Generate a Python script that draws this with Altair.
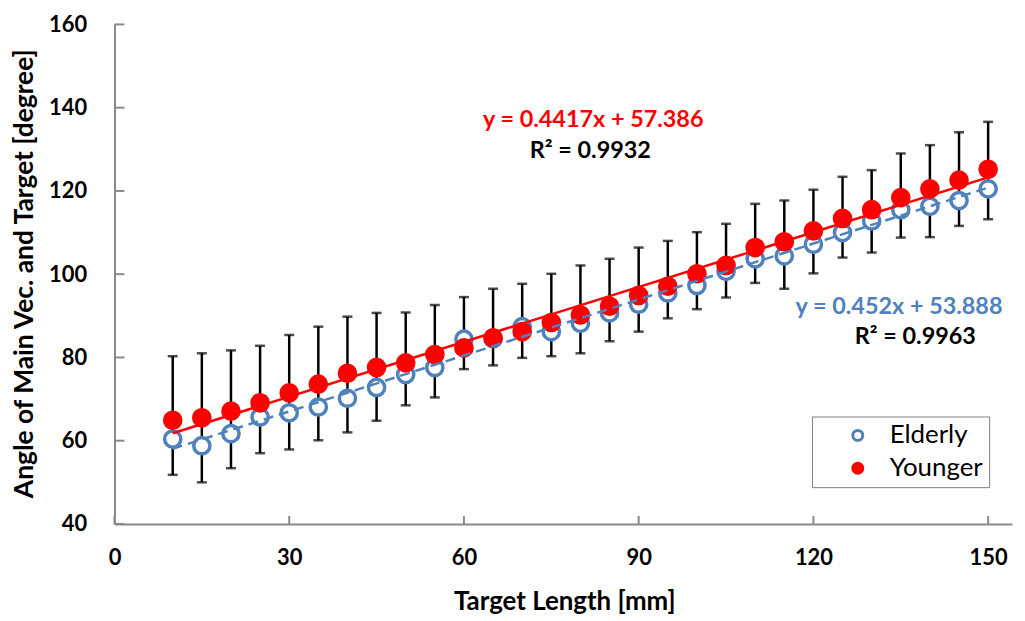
import altair as alt
import pandas as pd

# ---- data ----
target = [10, 15, 20, 25, 30, 35, 40, 45, 50, 55, 60, 65, 70, 75, 80, 85, 90, 95,
          100, 105, 110, 115, 120, 125, 130, 135, 140, 145, 150]
younger = [64.9, 65.5, 67.1, 69.1, 71.5, 73.6, 76.2, 77.6, 78.7, 80.7, 82.3, 84.7, 86.2,
           88.4, 90.2, 92.3, 94.9, 97.1, 100.1, 102.1, 106.4, 107.8, 110.4, 113.4, 115.5,
           118.4, 120.5, 122.6, 125.2]
elderly = [60.4, 58.8, 61.7, 65.7, 66.7, 68.1, 70.2, 72.8, 75.9, 77.6, 84.4, 84.5, 87.4,
           86.2, 88.2, 90.7, 92.8, 95.5, 97.3, 100.7, 103.7, 104.4, 107.2, 110.0, 112.8,
           115.5, 116.3, 117.7, 120.5]
younger_upper = [80.3, 81.0, 81.7, 82.8, 85.4, 87.4, 89.8, 90.7, 90.8, 92.6, 94.5, 96.5,
                 97.7, 100.1, 102.1, 103.7, 106.4, 108.0, 110.1, 112.1, 116.9, 117.7, 120.3,
                 123.4, 125.0, 129.0, 131.0, 134.1, 136.6]
elderly_lower = [51.8, 50.0, 53.4, 57.0, 57.9, 60.1, 62.0, 64.8, 68.5, 70.4, 77.2, 78.1,
                 79.9, 80.3, 81.0, 83.9, 86.2, 89.4, 91.6, 94.4, 97.9, 96.5, 100.2, 104.0,
                 105.2, 108.8, 108.9, 111.6, 113.2]
groups = ["Elderly", "Younger"]
x_ticks = [0, 30, 60, 90, 120, 150]
y_ticks = [40, 60, 80, 100, 120, 140, 160]

ann_labels = ["y = 0.4417x + 57.386", "R\u00b2 = 0.9932", "y = 0.452x + 53.888", "R\u00b2 = 0.9963"]
ann_x = [82.2, 81.7, 134.7, 137.5]
ann_y = [137.1, 129.6, 92.1, 84.9]
ann_color = ["#FF0000", "#000000", "#4F81BD", "#000000"]

BLUE = "#4F81BD"
RED = "#FF0000"
AX = "#898989"
FONT = "Lato"

n = len(target)
wide = pd.DataFrame({"x": target, "young": younger, "eld": elderly,
                     "yu": younger_upper, "el": elderly_lower})
long = pd.DataFrame({"x": target * 2,
                     "group": ["Elderly"] * n + ["Younger"] * n,
                     "value": elderly + younger})
ann = pd.DataFrame({"x": ann_x, "y": ann_y, "label": ann_labels, "color": ann_color})
xt = pd.DataFrame({"t": x_ticks})
yt = pd.DataFrame({"t": y_ticks})

W, H = 902, 502
xs = alt.Scale(domain=[0, 154.1], nice=False, zero=False)
ys = alt.Scale(domain=[40, 160], nice=False, zero=False)

main_x = alt.Axis(values=x_ticks, title="Target Length [mm]", tickSize=0, grid=False,
                  labelFont=FONT, labelFontWeight="bold", labelFontSize=22, labelColor="black",
                  labelPadding=24, labelFlush=False, domainColor=AX, domainWidth=2,
                  titleFont=FONT, titleFontWeight="bold", titleFontSize=26, titleColor="black",
                  titleX=452, titleY=78, titleBaseline="middle", titleAlign="center")
main_y = alt.Axis(values=y_ticks, title="Angle of Main Vec. and Target  [degree]", tickSize=0,
                  grid=False, labelFont=FONT, labelFontWeight="bold", labelFontSize=22,
                  labelColor="black", labelPadding=28, labelFlush=False,
                  domainColor=AX, domainWidth=2,
                  titleFont=FONT, titleFontWeight="bold", titleFontSize=26.5, titleColor="black",
                  titleX=-90, titleY=250, titleAngle=-90, titleBaseline="middle",
                  titleAlign="center")

# inward-pointing tick marks of the axes
xtick_marks = alt.Chart(xt).mark_rule(color=AX, strokeWidth=2).encode(
    x=alt.X("t:Q", scale=xs, axis=None),
    y=alt.value(H), y2=alt.value(H - 8),
)
ytick_marks = alt.Chart(yt).mark_rule(color=AX, strokeWidth=2).encode(
    y=alt.Y("t:Q", scale=ys, axis=None),
    x=alt.value(0), x2=alt.value(10),
)

bars = alt.Chart(wide).mark_rule(color="black", strokeWidth=2.5).encode(
    x=alt.X("x:Q", scale=xs, axis=main_x),
    y=alt.Y("el:Q", scale=ys, axis=main_y),
    y2="yu:Q",
)
caps_top = alt.Chart(wide).mark_tick(orient="horizontal", color="black", size=10,
                                     thickness=2.5).encode(
    x=alt.X("x:Q", scale=xs, axis=None),
    y=alt.Y("yu:Q", scale=ys, axis=None),
)
caps_bot = alt.Chart(wide).mark_tick(orient="horizontal", color="black", size=10,
                                     thickness=2.5).encode(
    x=alt.X("x:Q", scale=xs, axis=None),
    y=alt.Y("el:Q", scale=ys, axis=None),
)

leg = alt.Legend(title=None, orient="none", legendX=701, legendY=394, direction="vertical",
                 strokeColor="#7f7f7f", padding=6, rowPadding=7, symbolType="circle",
                 symbolSize=100, symbolStrokeWidth=3, symbolOffset=27, labelOffset=19,
                 labelFont=FONT, labelFontSize=26, labelColor="black",
                 labelExpr="datum.label + '\u00a0\u00a0\u00a0'")
points = alt.Chart(long).mark_point(filled=True, shape="circle", size=265, strokeWidth=3.5,
                                    opacity=1).encode(
    x=alt.X("x:Q", scale=xs, axis=None),
    y=alt.Y("value:Q", scale=ys, axis=None),
    fill=alt.Fill("group:N", scale=alt.Scale(domain=groups, range=["white", RED]), legend=leg),
    stroke=alt.Stroke("group:N", scale=alt.Scale(domain=groups, range=[BLUE, RED]), legend=leg),
)

trend_base = alt.Chart(long).transform_regression("x", "value", groupby=["group"],
                                                  extent=[10, 150])
trend_blue = trend_base.transform_filter(alt.datum.group == "Elderly").mark_line(
    color=BLUE, strokeWidth=2.5, strokeDash=[10, 6]).encode(
    x=alt.X("x:Q", scale=xs, axis=None),
    y=alt.Y("value:Q", scale=ys, axis=None),
)
trend_red = trend_base.transform_filter(alt.datum.group == "Younger").mark_line(
    color=RED, strokeWidth=2.5).encode(
    x=alt.X("x:Q", scale=xs, axis=None),
    y=alt.Y("value:Q", scale=ys, axis=None),
)

texts = alt.Chart(ann).mark_text(font=FONT, fontWeight="bold", fontSize=23.5, align="center",
                                 baseline="middle").encode(
    x=alt.X("x:Q", scale=xs, axis=None),
    y=alt.Y("y:Q", scale=ys, axis=None),
    text="label:N",
    color=alt.Color("color:N", scale=None),
)

chart = alt.layer(bars, xtick_marks, ytick_marks, caps_top, caps_bot, points, trend_blue,
                  trend_red, texts).resolve_axis(
    x="independent", y="independent"
).properties(
    width=W, height=H,
    padding={"left": 107, "top": 15, "right": 5, "bottom": 96},
    autosize=alt.AutoSizeParams(type="none"),
    background="white",
).configure_view(stroke=None)

chart.save("out.html", embed_options={"renderer": "svg", "actions": False})
